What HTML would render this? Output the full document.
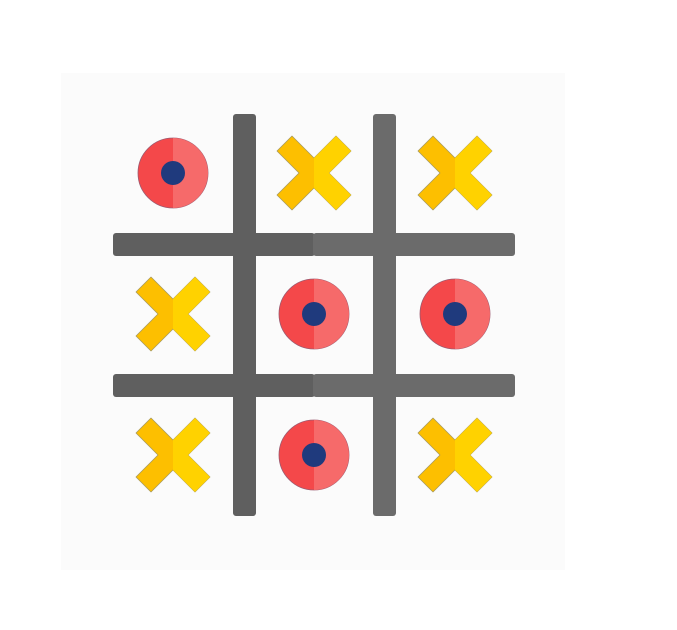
<!DOCTYPE html>
<html><head><meta charset="utf-8"><style>
html,body{margin:0;padding:0;background:#fff;width:677px;height:630px;overflow:hidden}
</style></head><body>
<svg width="677" height="630" viewBox="0 0 677 630">
<rect x="61" y="73" width="504" height="497" fill="#fbfbfb"/>
<g>
<rect x="233" y="114" width="23" height="402" rx="3" fill="#5f5f5f"/>
<rect x="373" y="114" width="23" height="402" rx="3" fill="#6b6b6b"/>
<rect x="113" y="233" width="202" height="23" rx="3" fill="#5f5f5f"/>
<rect x="313" y="233" width="202" height="23" rx="3" fill="#6b6b6b"/>
<rect x="113" y="374" width="202" height="23" rx="3" fill="#5f5f5f"/>
<rect x="313" y="374" width="202" height="23" rx="3" fill="#6b6b6b"/>
</g>
<defs>
<g id="o">
<circle r="35" fill="#f4484a" stroke="#9b5a70" stroke-width="0.8"/>
<path d="M0,-35 A35,35 0 0 1 0,35 Z" fill="#f66a6a"/>
<circle r="12" fill="#1f3a7d"/>
</g>
<g id="x">
<path d="M-22,-37 L0,-15 L22,-37 L37,-22 L15,0 L37,22 L22,37 L0,15 L-22,37 L-37,22 L-15,0 L-37,-22 Z" fill="#fdbf00" stroke="#a89a5a" stroke-width="0.8" stroke-linejoin="round"/>
<path d="M0,-15 L22,-37 L37,-22 L15,0 L37,22 L22,37 L0,15 Z" fill="#ffd200"/>
</g>
</defs>
<use href="#o" x="173" y="173"/>
<use href="#x" x="314" y="173"/>
<use href="#x" x="455" y="173"/>
<use href="#x" x="173" y="314"/>
<use href="#o" x="314" y="314"/>
<use href="#o" x="455" y="314"/>
<use href="#x" x="173" y="455"/>
<use href="#o" x="314" y="455"/>
<use href="#x" x="455" y="455"/>
</svg>
</body></html>
